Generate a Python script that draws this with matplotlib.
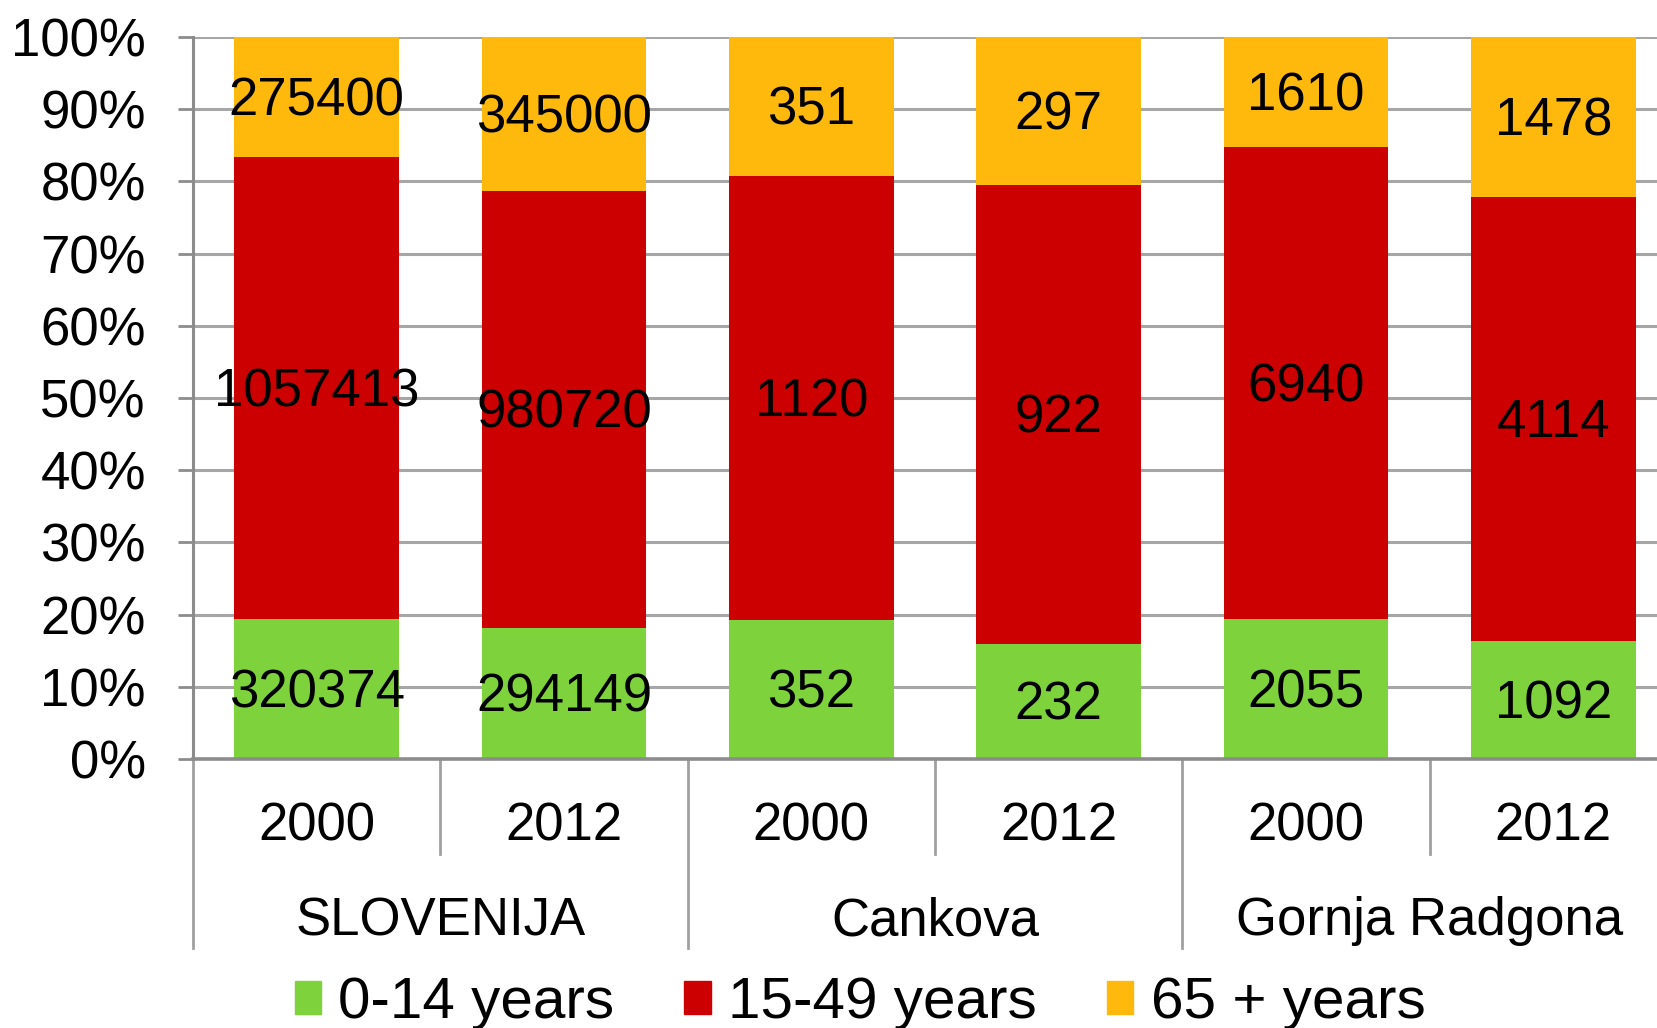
import numpy as np
import matplotlib.pyplot as plt
from matplotlib.patches import Patch
from matplotlib.transforms import blended_transform_factory

plt.rcParams['font.family'] = ['Liberation Sans', 'DejaVu Sans']

# data
groups = ["SLOVENIJA", "Cankova", "Gornja Radgona"]
years = ["2000", "2012", "2000", "2012", "2000", "2012"]
age_0_14 = [320374, 294149, 352, 232, 2055, 1092]
age_15_49 = [1057413, 980720, 1120, 922, 6940, 4114]
age_65 = [275400, 345000, 351, 297, 1610, 1478]
series_names = ["0-14 years", "15-49 years", "65 + years"]
colors = ["#7ed23b", "#cc0000", "#ffb80c"]

vals = np.array([age_0_14, age_15_49, age_65], dtype=float)
pct = vals / vals.sum(axis=0) * 100

fig = plt.figure(figsize=(16.57, 10.28), dpi=100)
# plot area runs a little past the right edge, as in the original
ax = fig.add_axes([193 / 1657, 1 - 759 / 1028, (1677 - 193) / 1657, 722 / 1028])

x = np.arange(len(years))
bottom = np.zeros(len(years))
for i in range(3):
    ax.bar(x, pct[i], 0.667, bottom=bottom, color=colors[i], zorder=2)
    for j in range(len(years)):
        ax.text(x[j], bottom[j] + pct[i][j] / 2 - 0.6, str(int(vals[i][j])),
                ha='center', va='center', fontsize=38, zorder=3)
    bottom += pct[i]

ax.set_xlim(-0.5, 5.5)
ax.set_ylim(0, 100)
ax.set_yticks(range(0, 101, 10))
ax.set_yticklabels([f"{t}%" for t in range(0, 101, 10)], fontsize=38)
ax.yaxis.grid(True, color='#a6a6a6', linewidth=2.2, zorder=0)
ax.tick_params(axis='y', length=11, width=2, color='#8c8c8c', pad=23)
ax.set_xticks([])
for s in ['top', 'right']:
    ax.spines[s].set_visible(False)
ax.spines['left'].set_color('#8c8c8c')
ax.spines['left'].set_linewidth(2.2)
ax.spines['bottom'].set_color('#8c8c8c')
ax.spines['bottom'].set_linewidth(2.6)

# two-level category axis
tr = blended_transform_factory(ax.transData, ax.transAxes)
for j, yr in enumerate(years):
    ax.text(x[j], -0.094, yr, transform=tr, ha='center', va='center', fontsize=38)
for g, name in enumerate(groups):
    ax.text(2 * g + 0.5, -0.225, name, transform=tr, ha='center', va='center', fontsize=38)
for b in np.arange(-0.5, 5.0, 1.0):
    low = -0.262 if int(b + 0.5) % 2 == 0 else -0.1316
    ax.plot([b, b], [0, low], transform=tr, color='#a0a0a0', linewidth=2, clip_on=False)

handles = [Patch(color=c) for c in colors]
fig.legend(handles, series_names, loc='center', bbox_to_anchor=(0.519, 0.024), ncol=3,
           frameon=False, fontsize=42, handlelength=0.45, handleheight=0.5,
           handletextpad=0.3, columnspacing=1.2)

fig.savefig("out.png", dpi=100)
